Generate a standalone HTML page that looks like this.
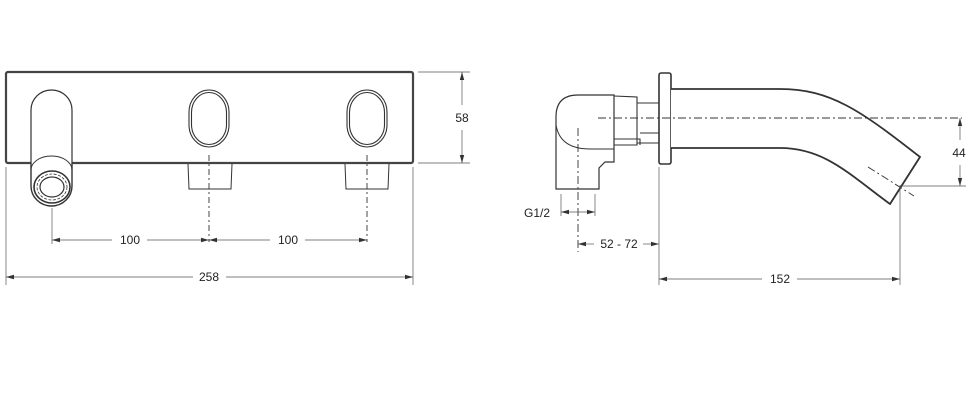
<!DOCTYPE html>
<html><head><style>html,body{margin:0;padding:0;background:#fff}svg{display:block}text{font-family:"Liberation Sans",sans-serif;font-size:12px;fill:#222}</style></head><body>
<svg width="970" height="401" viewBox="0 0 970 401" xmlns="http://www.w3.org/2000/svg">
<defs><marker id="a" markerWidth="8" markerHeight="6" refX="8" refY="3" orient="auto-start-reverse" markerUnits="userSpaceOnUse"><path d="M0,0.8 L8,3 L0,5.2 Z" fill="#333"/></marker></defs>
<g fill="none" stroke="#333">
<rect x="6" y="72" width="407" height="91" rx="2" stroke-width="2.2" stroke="#444"/>
<path d="M31,163 L31,110 A20.5,20 0 0 1 72,110 L72,163" stroke-width="1.2" fill="#fff"/>
<path d="M31,163 L31,186 A20.5,20 0 0 0 72,186 L72,163" stroke-width="1.4" fill="#fff"/>
<path d="M31,170 A20.5,14 0 0 1 72,170" stroke-width="1"/>
<ellipse cx="52" cy="187" rx="18" ry="16" stroke-width="1.6"/>
<ellipse cx="52" cy="187" rx="15" ry="13" stroke-width="0.8" stroke-dasharray="3,1.5"/>
<ellipse cx="52" cy="187" rx="12" ry="10" stroke-width="1.2"/>
<rect x="189" y="90" width="40" height="57" rx="20" ry="22" stroke-width="1.1"/>
<rect x="191.5" y="92.5" width="35" height="52" rx="17.5" ry="20" stroke-width="1.1"/>
<rect x="347" y="90" width="40" height="57" rx="20" ry="22" stroke-width="1.1"/>
<rect x="349.5" y="92.5" width="35" height="52" rx="17.5" ry="20" stroke-width="1.1"/>
<path d="M188,164 L189,189 L231,189 L232,164" stroke-width="1"/>
<path d="M345,164 L346,189 L388,189 L389,164" stroke-width="1"/>
<g stroke-width="0.9" stroke-dasharray="6,3,2,3"><line x1="209" y1="155" x2="209" y2="242"/><line x1="367" y1="155" x2="367" y2="242"/></g>
<g stroke-width="0.7" stroke="#555">
<line x1="52" y1="208" x2="52" y2="244"/>
<line x1="6" y1="167" x2="6" y2="285"/><line x1="413" y1="167" x2="413" y2="285"/>
<line x1="418" y1="72" x2="470" y2="72"/><line x1="418" y1="163" x2="470" y2="163"/>
<line x1="52" y1="240" x2="112" y2="240" marker-start="url(#a)"/><line x1="147" y1="240" x2="209" y2="240" marker-end="url(#a)"/>
<line x1="209" y1="240" x2="270" y2="240" marker-start="url(#a)"/><line x1="305" y1="240" x2="367" y2="240" marker-end="url(#a)"/>
<line x1="6" y1="277" x2="193" y2="277" marker-start="url(#a)"/><line x1="226" y1="277" x2="413" y2="277" marker-end="url(#a)"/>
<line x1="462" y1="72" x2="462" y2="105" marker-start="url(#a)"/><line x1="462" y1="130" x2="462" y2="163" marker-end="url(#a)"/>
</g>
<path d="M556,189 L556,117 Q556,95 578,95 L614,95 L614,162 L605,162 L599,168 L599,189 Z" stroke-width="1.2"/>
<path d="M556,125 Q560,149 590,149 L614,149" stroke-width="1"/>
<path d="M614,96 L637,97 L637,145 L614,145 M614,139 L640,139 L640,145" stroke-width="1.1"/>
<path d="M637,103 L659,103 M637,143 L659,143 M640,133 L659,133" stroke-width="1.1"/>
<rect x="659" y="73" width="12" height="91" rx="2" stroke-width="1.6"/>
<path d="M671,89 L780,89 C830,89 860,110 920,157 L890,204 C850,175 825,148 780,148 L671,148" stroke-width="1.8" fill="#fff"/>
<line x1="920" y1="157" x2="890" y2="204" stroke-width="1.5"/>
<g stroke-width="0.9" stroke-dasharray="8,3,2,3"><line x1="598" y1="118" x2="962" y2="118"/><line x1="578" y1="128" x2="578" y2="252"/><line x1="868" y1="167" x2="914" y2="196"/></g>
<g stroke-width="0.7" stroke="#555">
<line x1="561" y1="194" x2="561" y2="216"/><line x1="595" y1="194" x2="595" y2="216"/>
<line x1="561" y1="212" x2="595" y2="212" marker-start="url(#a)" marker-end="url(#a)"/>
<line x1="578" y1="244" x2="594" y2="244" marker-start="url(#a)"/><line x1="643" y1="244" x2="659" y2="244" marker-end="url(#a)"/>
<line x1="659" y1="167" x2="659" y2="285"/><line x1="900" y1="185" x2="900" y2="285"/>
<line x1="659" y1="279" x2="762" y2="279" marker-start="url(#a)"/><line x1="797" y1="279" x2="900" y2="279" marker-end="url(#a)"/>
<line x1="900" y1="186" x2="966" y2="186"/>
<line x1="960" y1="118" x2="960" y2="140" marker-start="url(#a)"/><line x1="960" y1="165" x2="960" y2="186" marker-end="url(#a)"/>
</g>
</g>
<text x="130" y="244" text-anchor="middle">100</text>
<text x="288" y="244" text-anchor="middle">100</text>
<text x="209" y="281" text-anchor="middle">258</text>
<text x="462" y="122" text-anchor="middle">58</text>
<text x="537" y="217" text-anchor="middle">G1/2</text>
<text x="619" y="248" text-anchor="middle">52 - 72</text>
<text x="780" y="283" text-anchor="middle">152</text>
<text x="959" y="157" text-anchor="middle">44</text>
</svg>
</body></html>
